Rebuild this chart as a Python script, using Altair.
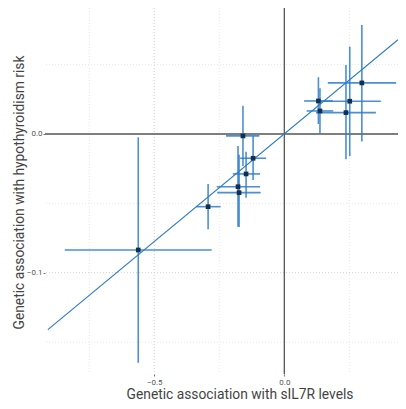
import altair as alt
import pandas as pd

# point estimates
bx = [-0.5615, -0.293, -0.159, -0.120, -0.147, -0.178, -0.174, 0.131, 0.137, 0.2515, 0.237, 0.298]
by = [-0.0836, -0.0524, -0.0014, -0.0175, -0.0288, -0.038, -0.0423, 0.0238, 0.0166, 0.0236, 0.0154, 0.0368]
# confidence intervals
x_lo = [-0.844, -0.340, -0.224, -0.170, -0.198, -0.260, -0.258, 0.076, 0.086, 0.132, 0.122, 0.167]
x_hi = [-0.279, -0.245, -0.096, -0.070, -0.093, -0.093, -0.091, 0.186, 0.188, 0.371, 0.352, 0.430]
y_lo = [-0.1649, -0.0687, -0.0231, -0.0332, -0.046, -0.0668, -0.067, 0.0072, 0.0005, -0.016, -0.0182, -0.0055]
y_hi = [-0.0024, -0.036, 0.0204, -0.0014, -0.0128, -0.0087, -0.015, 0.0409, 0.033, 0.063, 0.0497, 0.0786]
# fitted line endpoints
line_x = [-0.909, 0.437]
line_y = [-0.141, 0.068]
# grid positions
major_x = [-0.5]
minor_x = [-0.75, -0.25, 0.25]
major_y = [-0.1]
minor_y = [0.05, -0.05, -0.15]
x_ticks = [-0.5, 0.0]
y_ticks = [0.0, -0.1]

df = pd.DataFrame({"bx": bx, "by": by, "xlo": x_lo, "xhi": x_hi, "ylo": y_lo, "yhi": y_hi})
lf = pd.DataFrame({"x": line_x, "y": line_y})

xs = alt.Scale(domain=[-0.92, 0.437], nice=False, zero=False)
ys = alt.Scale(domain=[-0.173, 0.0908], nice=False, zero=False)

FONT = "Roboto"
blue = "#2b7bcc"

xaxis = alt.Axis(values=x_ticks, format=".1f", grid=False, domain=False, tickSize=2,
                 tickColor="#777", labelFontSize=8, labelColor="#555", labelFont=FONT,
                 labelPadding=2, title="Genetic association with sIL7R levels",
                 titleFont=FONT, titleFontSize=13.8, titleFontWeight="normal",
                 titleColor="#444444", titleX=194.5, titleY=20, titleAlign="center",
                 titleBaseline="middle")
yaxis = alt.Axis(values=y_ticks, format=".1f", grid=False, domain=False, tickSize=2,
                 tickColor="#777", labelFontSize=8, labelColor="#555", labelFont=FONT,
                 labelPadding=1, title="Genetic association with hypothyroidism risk",
                 titleFont=FONT, titleFontSize=13.8, titleFontWeight="normal",
                 titleColor="#444444", titleX=-26, titleY=184, titleAlign="center",
                 titleBaseline="middle", titleAngle=270)

minor_v = alt.Chart(pd.DataFrame({"x": minor_x})).mark_rule(
    color="#e6e6e6", strokeWidth=1, strokeDash=[1, 2]).encode(x=alt.X("x:Q", scale=xs, axis=xaxis))
major_v = alt.Chart(pd.DataFrame({"x": major_x})).mark_rule(
    color="#cfcfcf", strokeWidth=1, strokeDash=[1, 2]).encode(x=alt.X("x:Q", scale=xs))
minor_h = alt.Chart(pd.DataFrame({"y": minor_y})).mark_rule(
    color="#e6e6e6", strokeWidth=1, strokeDash=[1, 2]).encode(y=alt.Y("y:Q", scale=ys, axis=yaxis))
major_h = alt.Chart(pd.DataFrame({"y": major_y})).mark_rule(
    color="#cfcfcf", strokeWidth=1, strokeDash=[1, 2]).encode(y=alt.Y("y:Q", scale=ys))

zero_v = alt.Chart(pd.DataFrame({"x": [0.0]})).mark_rule(color="#555555", strokeWidth=1.3).encode(
    x=alt.X("x:Q", scale=xs))
zero_h = alt.Chart(pd.DataFrame({"y": [0.0]})).mark_rule(color="#555555", strokeWidth=1.3).encode(
    y=alt.Y("y:Q", scale=ys))

fit = alt.Chart(lf).mark_line(color=blue, strokeWidth=1.2, clip=True).encode(
    x=alt.X("x:Q", scale=xs), y=alt.Y("y:Q", scale=ys))

base = alt.Chart(df)
hbar = base.mark_rule(color=blue, strokeWidth=1.6, opacity=0.85).encode(
    x=alt.X("xlo:Q", scale=xs), x2="xhi:Q", y=alt.Y("by:Q", scale=ys))
vbar = base.mark_rule(color=blue, strokeWidth=1.6, opacity=0.85).encode(
    x=alt.X("bx:Q", scale=xs), y=alt.Y("ylo:Q", scale=ys), y2="yhi:Q")
pts = base.mark_point(shape="square", filled=True, size=22, color="#132f4c", opacity=1).encode(
    x=alt.X("bx:Q", scale=xs), y=alt.Y("by:Q", scale=ys))

chart = alt.layer(minor_v, major_v, minor_h, major_h, zero_v, zero_h, fit, hbar, vbar, pts).properties(
    width=353, height=366,
    autosize=alt.AutoSizeParams(type="none"),
    padding={"left": 37, "top": 0, "right": 0, "bottom": 27},
    background="white",
).configure_view(stroke=None)

chart.save("out.html", embed_options={"renderer": "svg", "actions": False})
